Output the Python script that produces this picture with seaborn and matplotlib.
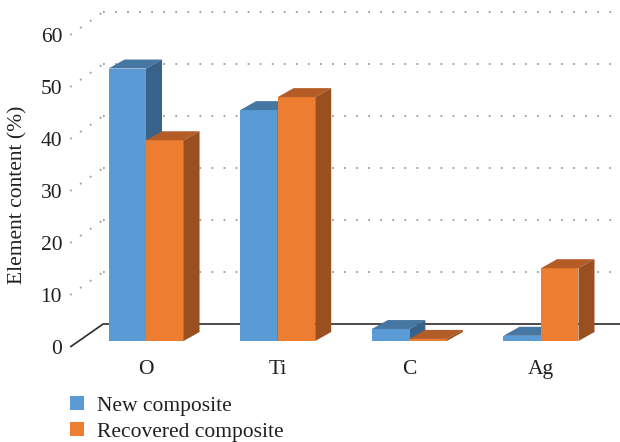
import matplotlib
matplotlib.use("Agg")
import matplotlib.pyplot as plt
from matplotlib.patches import Polygon, Patch
from matplotlib.transforms import ScaledTranslation
import pandas as pd
import seaborn as sns

# Element composition of the two composites (%)
elements = ["O", "Ti", "C", "Ag"]
new_composite = [52.4, 44.4, 2.3, 1.0]
recovered_composite = [38.6, 46.9, 0.4, 14.0]
series_names = ["New composite", "Recovered composite"]
y_ticks = [0, 10, 20, 30, 40, 50, 60]

front_colors = ["#5B9BD5", "#ED7D31"]
top_colors = ["#4676A2", "#B35C27"]
side_colors = ["#386289", "#9A4F20"]
text_color = "#231F20"
FS = 15.5

df = pd.DataFrame({
    "Element": elements * 2,
    "Content": new_composite + recovered_composite,
    "Series": [series_names[0]] * len(elements) + [series_names[1]] * len(elements),
})

sns.set_style("white")
plt.rcParams["font.family"] = ["Liberation Serif", "DejaVu Serif"]
plt.rcParams["text.color"] = text_color
plt.rcParams["xtick.color"] = text_color
plt.rcParams["ytick.color"] = text_color
plt.rcParams["axes.labelcolor"] = text_color

W, H, DPI = 620, 442, 100
fig = plt.figure(figsize=(W / DPI, H / DPI), dpi=DPI)

# Front plane of the bars, in pixels
ax_left, ax_right, ax_bottom, ax_top = 80.2, 606.8, 341.0, 29.0
ax = fig.add_axes([ax_left / W, 1 - ax_bottom / H,
                   (ax_right - ax_left) / W, (ax_bottom - ax_top) / H])

sns.barplot(data=df, x="Element", y="Content", hue="Series",
            hue_order=series_names, palette=front_colors, saturation=1,
            width=0.57, gap=0, linewidth=0, legend=False, ax=ax)
ax.set_xlim(-0.5, 3.5)
ax.set_ylim(0, 60)

# pixel -> data unit conversion
px_x = (ax_right - ax_left) / 4.0
px_y = (ax_bottom - ax_top) / 60.0


def dx(p):
    return p / px_x


def dy(p):
    return p / px_y


# Depth of each bar (pixels right, pixels up)
BAR_DX, BAR_DY = 16, 9

# Extrude every bar: top and side faces, drawn left to right
bars = []
for level, container in enumerate(ax.containers):
    for rect in container:
        bars.append((rect.get_x(), rect, level))
bars.sort(key=lambda b: b[0])

for i, (_, rect, level) in enumerate(bars):
    z = 2 + 3 * i
    x0 = rect.get_x()
    x1 = x0 + rect.get_width()
    h = rect.get_height()
    rect.set_zorder(z)
    top = Polygon([(x0, h), (x1, h), (x1 + dx(BAR_DX), h + dy(BAR_DY)),
                   (x0 + dx(BAR_DX), h + dy(BAR_DY))], closed=True,
                  facecolor=top_colors[level], edgecolor="none", zorder=z + 1)
    side = Polygon([(x1, 0), (x1, h), (x1 + dx(BAR_DX), h + dy(BAR_DY)),
                    (x1 + dx(BAR_DX), dy(BAR_DY))], closed=True,
                   facecolor=side_colors[level], edgecolor="none", zorder=z + 2)
    ax.add_patch(top)
    ax.add_patch(side)

# Walls: left wall and back wall with dotted gridlines
front_x = -0.5 + dx(-10)
front_dy = dy(-6)
back_x = -0.5 + dx(23)
back_dy = dy(17)
right_x = -0.5 + dx(W - ax_left)

for v in y_ticks:
    if v == 0:
        kw = dict(color="#2B2B2B", lw=1.2, ls="-")
    else:
        kw = dict(color="#A0A0A0", lw=1.4, ls=(0, (0.9, 5.3)))
    ax.plot([front_x, back_x], [v + front_dy, v + back_dy],
            clip_on=False, zorder=0.5, solid_capstyle="butt", **kw)
    ax.plot([back_x, right_x], [v + back_dy, v + back_dy],
            clip_on=False, zorder=0.5, solid_capstyle="butt", **kw)

# Axes, ticks and labels
sns.despine(ax=ax, left=True, bottom=True)
ax.grid(False)
ax.set_yticks(y_ticks)
ax.set_yticklabels([str(v) for v in y_ticks])
ax.tick_params(axis="y", length=0, pad=13, labelsize=FS)
ax.tick_params(axis="x", length=0, pad=13.5, labelsize=FS)
shift = ScaledTranslation(0, -6 / DPI, fig.dpi_scale_trans)
for lbl in ax.get_yticklabels():
    lbl.set_transform(lbl.get_transform() + shift)

ax.set_xlabel("")
ax.set_ylabel("Element content (%)", fontsize=FS)
ax.yaxis.label.set_va("center")
ax.yaxis.set_label_coords((18 - ax_left) / (ax_right - ax_left),
                          (ax_bottom - 195) / (ax_bottom - ax_top))

handles = [Patch(facecolor=c, edgecolor="none") for c in front_colors]
fig.legend(handles, series_names, loc="upper left",
           bbox_to_anchor=(70 / W, 1 - 396 / H), frameon=False, fontsize=FS,
           handlelength=0.65, handleheight=0.65, handletextpad=0.6,
           labelspacing=0.28, borderpad=0, borderaxespad=0)

fig.savefig("out.png", dpi=DPI)
